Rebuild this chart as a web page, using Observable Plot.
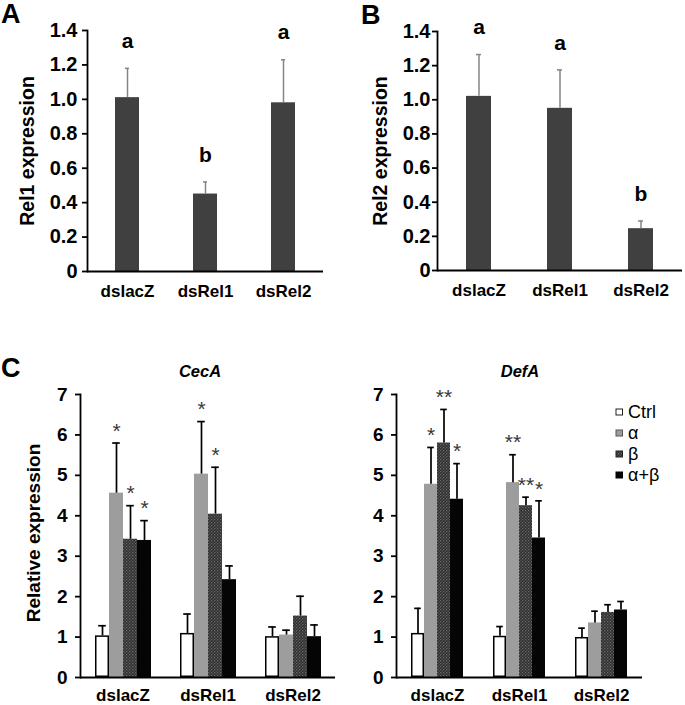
<!DOCTYPE html>
<html><head><meta charset="utf-8">
<script src="https://cdn.jsdelivr.net/npm/d3@7"></script>
<script src="https://cdn.jsdelivr.net/npm/@observablehq/plot@0.6"></script>
<style>
body{margin:0;background:#fff;}
#root{position:relative;width:685px;height:705px;overflow:hidden;font-family:"Liberation Sans",Arial,sans-serif;}
</style></head><body><div id="root"></div>
<script>
// ---------- data ----------
const knockdowns = ["dslacZ", "dsRel1", "dsRel2"];
const treatments = ["Ctrl", "α", "β", "α+β"];

// Panel A: Rel1 expression
const rel1Values = [1.01, 0.45, 0.98];
const rel1SE     = [0.17, 0.07, 0.25];
const rel1Letters = ["a", "b", "a"];
// Panel B: Rel2 expression
const rel2Values = [1.02, 0.95, 0.245];
const rel2SE     = [0.245, 0.225, 0.045];
const rel2Letters = ["a", "a", "b"];
const abTicks = [0, 0.2, 0.4, 0.6, 0.8, 1.0, 1.2, 1.4];

// Panel C: CecA (rows = knockdowns, cols = treatments)
const cecaValues = [[1.03, 4.56, 3.42, 3.39], [1.09, 5.03, 4.04, 2.42], [1.01, 1.05, 1.52, 1.01]];
const cecaSE     = [[0.25, 1.24, 0.83, 0.49], [0.48, 1.30, 1.16, 0.34], [0.24, 0.12, 0.49, 0.29]];
const cecaSig    = [["", "*", "*", "*"], ["", "*", "*", ""], ["", "", "", ""]];
// Panel C: DefA
const defaValues = [[1.09, 4.78, 5.80, 4.41], [1.02, 4.82, 4.25, 3.45], [0.99, 1.35, 1.61, 1.67]];
const defaSE     = [[0.62, 0.91, 0.83, 0.88], [0.24, 0.69, 0.21, 0.92], [0.23, 0.29, 0.19, 0.21]];
const defaSig    = [["", "*", "**", "*"], ["", "**", "**", "*"], ["", "", "", ""]];
const cTicks = [0, 1, 2, 3, 4, 5, 6, 7];

const FONT = '"Liberation Sans", Arial, sans-serif';
const treatmentFills = ["#ffffff", "#9d9d9d", "url(#betaPat)", "#050505"];

const root = document.getElementById("root");

// defs / overlay svg
const overlay = d3.create("svg")
  .attr("width", 685).attr("height", 705)
  .style("position", "absolute").style("left", "0px").style("top", "0px")
  .style("pointer-events", "none").style("font-family", FONT);
const pat = overlay.append("defs").append("pattern")
  .attr("id", "betaPat").attr("patternUnits", "userSpaceOnUse")
  .attr("width", 3).attr("height", 3);
pat.append("rect").attr("width", 3).attr("height", 3).attr("fill", "#2e2e2e");
pat.append("rect").attr("x", 0).attr("y", 0).attr("width", 1.3).attr("height", 1.3).attr("fill", "#6a6a6a");
pat.append("rect").attr("x", 1.5).attr("y", 1.5).attr("width", 1.3).attr("height", 1.3).attr("fill", "#5a5a5a");

function place(svg, left, top) {
  svg.style.position = "absolute";
  svg.style.left = left + "px";
  svg.style.top = top + "px";
  root.appendChild(svg);
}

function simplePlot(values, se, letters, opts) {
  const data = knockdowns.map((k, i) => ({k, v: values[i], top: values[i] + se[i], letter: letters[i]}));
  return Plot.plot({
    width: opts.width, height: 320,
    marginLeft: opts.marginLeft, marginRight: opts.marginRight, marginTop: opts.marginTop, marginBottom: opts.marginBottom,
    style: {fontFamily: FONT, fontSize: "17px", fontWeight: "bold", color: "black", background: "transparent", overflow: "visible"},
    x: {domain: knockdowns, paddingInner: 0.69, paddingOuter: 0.345},
    y: {domain: [0, 1.4]},
    marks: [
      Plot.barY(data, {x: "k", y: "v", fill: "#404040"}),
      Plot.ruleX(data, {x: "k", y1: "v", y2: "top", stroke: "#858585", strokeWidth: 1.5}),
      Plot.tickY(data, {x: "k", y: "top", stroke: "#858585", strokeWidth: 1.5, insetLeft: 10, insetRight: 10}),
      Plot.text(data, {x: "k", y: "top", text: "letter", dy: -27, fontSize: 21, fontWeight: "bold", fill: "black"}),
      Plot.axisY({ticks: abTicks, tickFormat: d => d === 0 ? "0" : d.toFixed(1), tickSize: 5, tickPadding: opts.tickPadding, fontSize: 20, strokeWidth: 1.8, label: null}),
      Plot.axisX({tickSize: 0, tickPadding: 13, fontSize: 17, label: null}),
      Plot.frame({anchor: "left", strokeWidth: 1.8}),
      Plot.ruleY([0], {stroke: "black", strokeWidth: 2})
    ]
  });
}

function groupedPlot(values, se, sig, opts) {
  const data = [];
  knockdowns.forEach((k, i) => treatments.forEach((t, j) => data.push({k, t, v: values[i][j], top: values[i][j] + se[i][j], sig: sig[i][j]})));
  return Plot.plot({
    width: opts.width, height: 345,
    marginLeft: opts.marginLeft, marginRight: opts.marginRight, marginTop: 34, marginBottom: 28,
    style: {fontFamily: FONT, fontSize: "16px", fontWeight: "bold", color: "black", background: "transparent", overflow: "visible"},
    fx: {domain: knockdowns, padding: 0},
    x: {domain: treatments, paddingInner: 0, paddingOuter: 0.97, axis: null},
    y: {domain: [0, 7]},
    color: {type: "ordinal", domain: treatments, range: treatmentFills},
    marks: [
      Plot.barY(data, {fx: "k", x: "t", y: "v", fill: "t"}),
      Plot.barY(data.filter(d => d.t === "Ctrl"), {fx: "k", x: "t", y: "v", fill: "white", stroke: "black", strokeWidth: 1.5, inset: 0.75}),
      Plot.ruleX(data, {fx: "k", x: "t", y1: "v", y2: "top", stroke: "black", strokeWidth: 1.7}),
      Plot.tickY(data, {fx: "k", x: "t", y: "top", stroke: "black", strokeWidth: 1.7, insetLeft: 3.2, insetRight: 3.2}),
      Plot.text(data.filter(d => d.sig), {fx: "k", x: "t", y: "top", text: "sig", dy: -12, fontSize: 21, fontWeight: "normal", fill: "#383838"}),
      Plot.axisY({ticks: cTicks, tickFormat: d => String(d), tickSize: 5, tickPadding: 8, fontSize: 19, strokeWidth: 1.8, label: null}),
      Plot.axisFx({anchor: "bottom", tickSize: 0, tickPadding: 11, fontSize: 17, label: null}),
      Plot.frame({anchor: "left", strokeWidth: 1.8, facetAnchor: "left"}),
      Plot.ruleY([0], {stroke: "black", strokeWidth: 2})
    ]
  });
}

place(simplePlot(rel1Values, rel1SE, rel1Letters, {width: 340, marginLeft: 87, marginRight: 17, marginTop: 30, marginBottom: 49, tickPadding: 5}), 0, 0);
place(simplePlot(rel2Values, rel2SE, rel2Letters, {width: 345, marginLeft: 97, marginRight: 3, marginTop: 31, marginBottom: 50, tickPadding: 2}), 340, 0);
place(groupedPlot(cecaValues, cecaSE, cecaSig, {width: 340, marginLeft: 80, marginRight: 5}), 0, 360);
place(groupedPlot(defaValues, defaSE, defaSig, {width: 340, marginLeft: 55, marginRight: 38}), 340, 360);

// overlay texts
const ov = overlay;
const txt = (x, y, s, o = {}) => ov.append("text").attr("x", x).attr("y", y).text(s)
  .attr("font-size", o.size || 17).attr("font-weight", o.weight || "bold")
  .attr("font-style", o.style || "normal").attr("text-anchor", o.anchor || "start")
  .attr("fill", "black").attr("transform", o.rotate ? `rotate(-90 ${x} ${y})` : null);

txt(1, 23, "A", {size: 27});
txt(361, 24, "B", {size: 27});
txt(1, 377, "C", {size: 27});
txt(200, 377, "CecA", {size: 16.5, style: "italic", anchor: "middle"});
txt(520, 377, "DefA", {size: 16.5, style: "italic", anchor: "middle"});
txt(34, 151, "Rel1 expression", {size: 19.5, anchor: "middle", rotate: true});
txt(387, 151, "Rel2 expression", {size: 19.5, anchor: "middle", rotate: true});
txt(40, 533, "Relative expression", {size: 19, anchor: "middle", rotate: true});

// legend
const legendY = [412, 433, 454, 475];
const swatchStroke = ["#222", "#555", "#222", "#000"];
treatments.forEach((t, i) => {
  ov.append("rect").attr("x", 616).attr("y", legendY[i] - 3).attr("width", 6.5).attr("height", 6)
    .attr("fill", treatmentFills[i]).attr("stroke", swatchStroke[i]).attr("stroke-width", 1);
  txt(628, legendY[i] + 6, t, {size: 18, weight: "normal"});
});

root.appendChild(overlay.node());
</script></body></html>
